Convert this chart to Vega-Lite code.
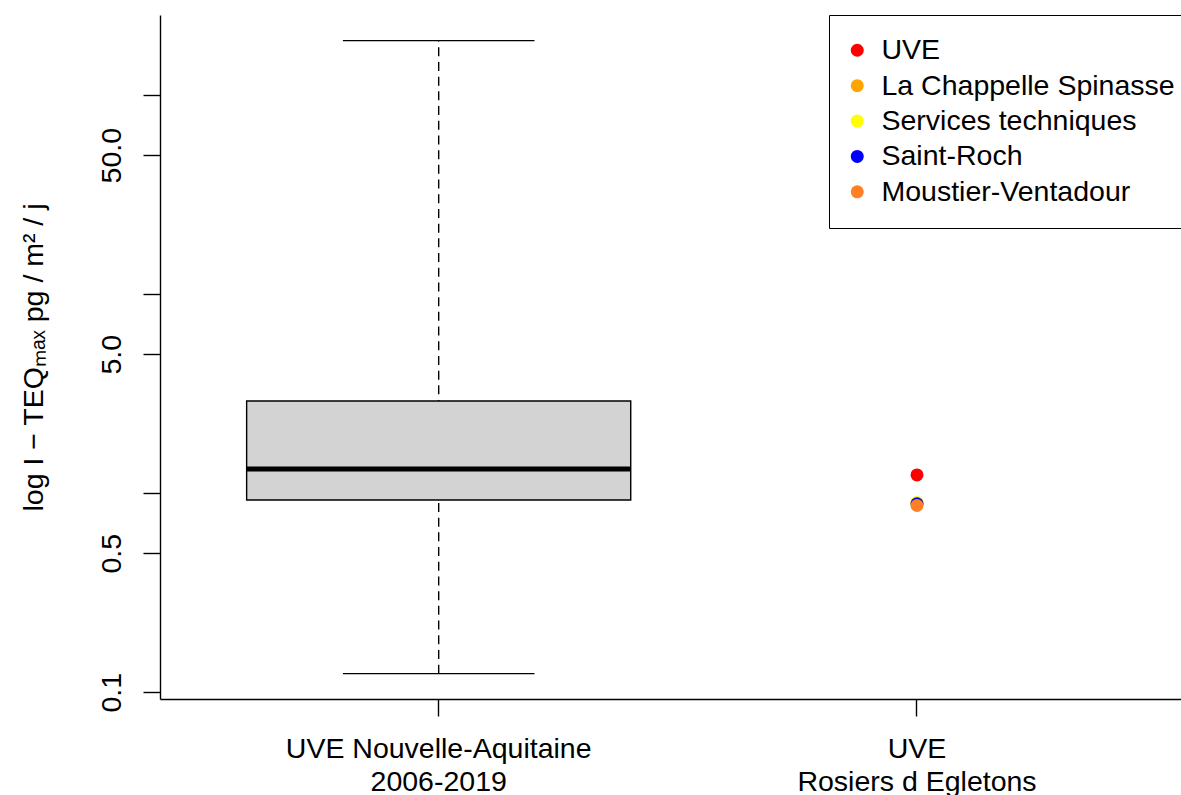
{
  "$schema": "https://vega.github.io/schema/vega-lite/v6.json",
  "width": 1021,
  "height": 684,
  "autosize": {"type": "none"},
  "padding": {"left": 160, "top": 15, "right": 0, "bottom": 96},
  "background": "white",
  "config": {
    "view": {"stroke": null},
    "font": "Liberation Sans",
    "axis": {"grid": false, "domainColor": "black", "tickColor": "black", "labelColor": "black", "titleColor": "black", "domainWidth": 1.4, "tickWidth": 1.4, "labelFont": "Liberation Sans", "titleFont": "Liberation Sans"}
  },
  "datasets": {
    "box": [
      {"group": "UVE Nouvelle-Aquitaine 2006-2019", "lower": 0.124, "q1": 0.925, "median": 1.325, "q3": 2.91, "upper": 188.2}
    ],
    "points": [
      {"group": "UVE Rosiers d Egletons", "site": "UVE", "value": 1.236},
      {"group": "UVE Rosiers d Egletons", "site": "La Chappelle Spinasse", "value": 0.89},
      {"group": "UVE Rosiers d Egletons", "site": "Services techniques", "value": 0.9},
      {"group": "UVE Rosiers d Egletons", "site": "Saint-Roch", "value": 0.885},
      {"group": "UVE Rosiers d Egletons", "site": "Moustier-Ventadour", "value": 0.868}
    ]
  },
  "layer": [
    {
      "data": {"name": "box"},
      "mark": {"type": "rule", "color": "black", "strokeWidth": 1.4, "strokeDash": [9, 5.7]},
      "encoding": {
        "x": {
          "field": "group", "type": "nominal",
          "scale": {"type": "band", "domain": ["UVE Nouvelle-Aquitaine 2006-2019", "UVE Rosiers d Egletons"], "paddingInner": 0, "paddingOuter": 0.0673, "align": 0.614},
          "axis": {
            "title": null, "labelAngle": 0, "labelAlign": "center", "labelBaseline": "top", "labelLimit": 0,
            "labelFontSize": 28.5, "labelLineHeight": 33, "labelPadding": 18, "tickSize": 17,
            "labelExpr": "datum.value == 'UVE Nouvelle-Aquitaine 2006-2019' ? ['UVE Nouvelle-Aquitaine', '2006-2019'] : ['UVE', 'Rosiers d Egletons']"
          }
        },
        "y": {
          "field": "lower", "type": "quantitative",
          "scale": {"type": "log", "domain": [0.0925, 253.3], "nice": false, "zero": false},
          "axis": {
            "title": "log I − TEQₘₐₓ pg / m² / j",
            "values": [0.1, 0.5, 1, 5, 10, 50, 100],
            "labelExpr": "datum.value == 0.1 ? '0.1' : datum.value == 0.5 ? '0.5' : datum.value == 5 ? '5.0' : datum.value == 50 ? '50.0' : ''",
            "labelAngle": 270, "labelAlign": "center", "labelBaseline": "alphabetic",
            "labelFontSize": 28.5, "labelPadding": 23, "tickSize": 17, "labelOverlap": false,
            "titleAngle": 270, "titleX": -118, "titleY": 342, "titleAlign": "center", "titleBaseline": "alphabetic",
            "titleFontSize": 28.5, "titleFontWeight": "normal", "titleLimit": 0
          }
        },
        "y2": {"field": "upper"}
      }
    },
    {
      "data": {"name": "box"},
      "mark": {"type": "tick", "color": "black", "size": 191.6, "thickness": 1.4, "opacity": 1},
      "encoding": {
        "x": {"field": "group", "type": "nominal"},
        "y": {"field": "upper", "type": "quantitative"}
      }
    },
    {
      "data": {"name": "box"},
      "mark": {"type": "tick", "color": "black", "size": 191.6, "thickness": 1.4, "opacity": 1},
      "encoding": {
        "x": {"field": "group", "type": "nominal"},
        "y": {"field": "lower", "type": "quantitative"}
      }
    },
    {
      "data": {"name": "box"},
      "mark": {"type": "bar", "fill": "#D3D3D3", "stroke": "black", "strokeWidth": 1.4, "width": {"band": 0.803}, "opacity": 1},
      "encoding": {
        "x": {"field": "group", "type": "nominal"},
        "y": {"field": "q1", "type": "quantitative"},
        "y2": {"field": "q3"}
      }
    },
    {
      "data": {"name": "box"},
      "mark": {"type": "tick", "color": "black", "size": 384, "thickness": 5, "opacity": 1},
      "encoding": {
        "x": {"field": "group", "type": "nominal"},
        "y": {"field": "median", "type": "quantitative"}
      }
    },
    {
      "data": {"name": "points"},
      "mark": {"type": "point", "filled": true, "shape": "circle", "size": 169, "opacity": 1, "strokeWidth": 0},
      "encoding": {
        "x": {"field": "group", "type": "nominal"},
        "y": {"field": "value", "type": "quantitative"},
        "color": {
          "field": "site", "type": "nominal",
          "scale": {"domain": ["UVE", "La Chappelle Spinasse", "Services techniques", "Saint-Roch", "Moustier-Ventadour"], "range": ["#FF0000", "#FFA500", "#FFFF00", "#0000FF", "#FF7F24"]},
          "legend": {
            "title": null, "orient": "none", "legendX": 669, "legendY": 0,
            "strokeColor": "black", "fillColor": "white", "padding": 21, "cornerRadius": 0,
            "labelFontSize": 28.5, "labelFont": "Liberation Sans", "labelColor": "black", "labelLimit": 0, "labelOffset": 10,
            "symbolType": "circle", "symbolSize": 169, "symbolStrokeWidth": 0, "symbolOpacity": 1, "symbolOffset": -7, "rowPadding": 6.4
          }
        }
      }
    },
    {
      "mark": {"type": "rule", "color": "black", "strokeWidth": 1.4},
      "encoding": {"y": {"datum": 253.3}}
    }
  ]
}
